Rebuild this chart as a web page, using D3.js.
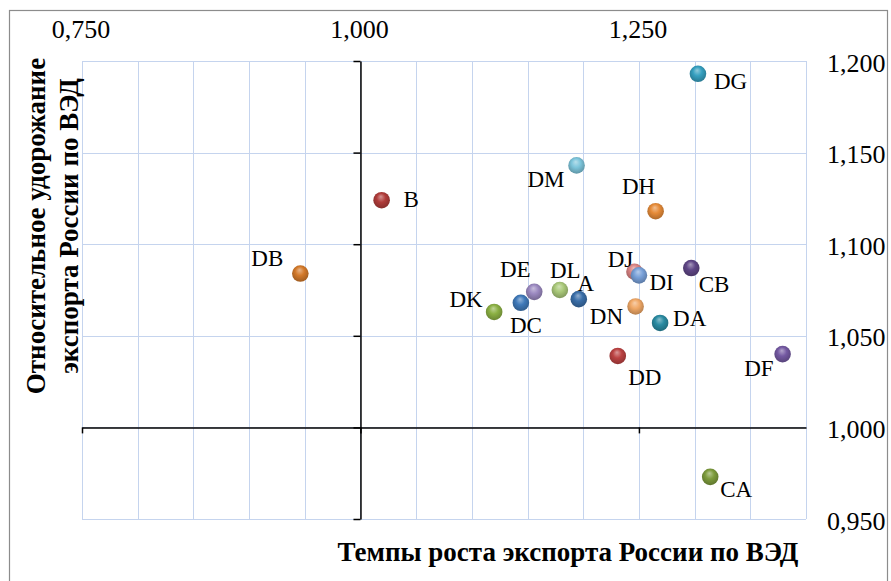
<!DOCTYPE html>
<meta charset="utf-8">
<style>
body { margin: 0; background: #fff; }
svg text { font-family: "Liberation Serif", "Times New Roman", serif; fill: #000; }
.grid line { stroke: #c5d4ee; stroke-width: 1.3; shape-rendering: crispEdges; }
.tick-lbl text { font-size: 26px; }
.pt-lbl { font-size: 23px; }
.ttl { font-size: 27px; font-weight: bold; }
</style>
<body>
<script src="https://cdn.jsdelivr.net/npm/d3@7/dist/d3.min.js"></script>
<script>

// data
var names  = ["A", "B", "CA", "CB", "DA", "DB", "DC", "DD", "DE", "DF", "DG", "DH", "DI", "DJ", "DK", "DL", "DM", "DN"];
var growth = [1.196, 1.019, 1.314, 1.297, 1.269, 0.946, 1.144, 1.231, 1.156, 1.379, 1.303, 1.265, 1.250, 1.246, 1.120, 1.179, 1.194, 1.247];
var rise   = [1.070, 1.124, 0.973, 1.087, 1.057, 1.084, 1.068, 1.039, 1.074, 1.040, 1.193, 1.118, 1.083, 1.085, 1.063, 1.075, 1.143, 1.066];

var xTickLabels = [0.75, 1.00, 1.25];
var yTickLabels = [0.95, 1.00, 1.05, 1.10, 1.15, 1.20];

var xTitle = "Темпы роста экспорта России по ВЭД";
var yTitle = ["Относительное удорожание", "экспорта России по ВЭД"];

// point colours (Excel "vary colors by point")
var colors = {
  A: "#3a6ea8", B: "#b03c3a", CA: "#7d9c3c", CB: "#5f4686", DA: "#2a8ba2", DB: "#d3792a",
  DC: "#3f79b9", DD: "#bb4242", DE: "#9b89c0", DF: "#7459a2", DG: "#36a0c0", DH: "#e68b38",
  DI: "#78a0d8", DJ: "#d98282", DK: "#8bb043", DL: "#a9c879", DM: "#7dc5db", DN: "#f0a866"
};

// label placement: [anchor, dx, dy(baseline)]
var lblPos = {
  A: ["middle", 7, -8], B: ["start", 22, 7], CA: ["start", 10, 20], CB: ["start", 7.5, 23.5],
  DA: ["start", 13, 3.5], DB: ["end", -17, -8], DC: ["middle", 5, 30], DD: ["middle", 27, 29.5],
  DE: ["middle", -19, -14.5], DF: ["end", -9, 21.5], DG: ["start", 16, 15], DH: ["middle", -17, -17],
  DI: ["start", 10.5, 15], DJ: ["middle", -14, -5], DK: ["end", -11.5, -4.5], DL: ["middle", 5.5, -12.5],
  DM: ["end", -12, 21.5], DN: ["end", -12.5, 17.5]
};

var W = 891, H = 581;
var plotL = 82, plotR = 806, plotT = 61, plotB = 519;

var ru = d3.formatLocale({decimal: ",", thousands: " ", grouping: [3], currency: ["", ""]});
var fmt = ru.format(".3f");

var x = d3.scaleLinear().domain([0.75, 1.40]).range([plotL, plotR]);
var y = d3.scaleLinear().domain([0.95, 1.20]).range([plotB, plotT]);

var svg = d3.select("body").append("svg")
    .attr("width", W)
    .attr("height", H);

// chart border
svg.append("rect")
    .attr("x", 9.5).attr("y", 10.5)
    .attr("width", 878).attr("height", 600)
    .attr("fill", "#fff")
    .attr("stroke", "#8c8c8c").attr("stroke-width", 1.2);

// gridlines
var grid = svg.append("g").attr("class", "grid");
grid.selectAll(".gx")
    .data(d3.range(0, 14).map(function(i) { return 0.75 + i * 0.05; }))
    .enter().append("line")
    .attr("x1", function(d) { return Math.round(x(d)) + 0.5; })
    .attr("x2", function(d) { return Math.round(x(d)) + 0.5; })
    .attr("y1", plotT).attr("y2", plotB);
grid.selectAll(".gy")
    .data(yTickLabels)
    .enter().append("line")
    .attr("y1", function(d) { return Math.round(y(d)) + 0.5; })
    .attr("y2", function(d) { return Math.round(y(d)) + 0.5; })
    .attr("x1", plotL).attr("x2", plotR);

// axes crossing at 1,000 / 1,000
var yAxis = d3.axisLeft(y).tickValues(yTickLabels).tickSize(7).tickSizeOuter(0).tickFormat("");
svg.append("g")
    .attr("transform", "translate(" + x(1.0) + ",0)")
    .call(yAxis)
    .call(function(g) {
      g.selectAll("line, path").attr("stroke", "#000").attr("stroke-width", 1.5);
    });

var xAxis = d3.axisBottom(x).tickValues(xTickLabels).tickSize(6).tickSizeOuter(0).tickFormat("");
svg.append("g")
    .attr("transform", "translate(0," + y(1.0) + ")")
    .call(xAxis)
    .call(function(g) {
      g.selectAll("line, path").attr("stroke", "#000").attr("stroke-width", 1.5);
    });

// tick labels: x on top, y on the right
svg.append("g").attr("class", "tick-lbl")
    .selectAll("text")
    .data(xTickLabels)
    .enter().append("text")
    .attr("x", function(d) { return x(d) - 1; })
    .attr("y", 38)
    .attr("text-anchor", "middle")
    .text(fmt);

svg.append("g").attr("class", "tick-lbl")
    .selectAll("text")
    .data(yTickLabels)
    .enter().append("text")
    .attr("x", 827)
    .attr("y", function(d) { return y(d) + 10.5; })
    .text(fmt);

// axis titles
svg.append("text").attr("class", "ttl")
    .attr("x", 568).attr("y", 561)
    .attr("text-anchor", "middle")
    .text(xTitle);

var yt = svg.append("g").attr("transform", "translate(0,226) rotate(-90)");
yt.selectAll("text")
    .data(yTitle)
    .enter().append("text")
    .attr("class", "ttl")
    .attr("x", 0)
    .attr("y", function(d, i) { return 45 + i * 33; })
    .attr("text-anchor", "middle")
    .text(function(d) { return d; });

// sphere gradients
var defs = svg.append("defs");
names.forEach(function(n) {
  var c = d3.color(colors[n]);
  var g = defs.append("radialGradient")
      .attr("id", "g" + n)
      .attr("cx", "50%").attr("cy", "45%").attr("r", "60%")
      .attr("fx", "45%").attr("fy", "28%");
  g.append("stop").attr("offset", "0%").attr("stop-color", d3.interpolateRgb(c, "#fff")(0.45));
  g.append("stop").attr("offset", "45%").attr("stop-color", c.formatHex());
  g.append("stop").attr("offset", "100%").attr("stop-color", c.darker(0.9).formatHex());
});

var pts = names.map(function(n, i) { return {name: n, gx: growth[i], ry: rise[i]}; }).reverse();

svg.append("g").selectAll("circle")
    .data(pts)
    .enter().append("circle")
    .attr("cx", function(d) { return x(d.gx); })
    .attr("cy", function(d) { return y(d.ry); })
    .attr("r", 8.3)
    .attr("fill", function(d) { return "url(#g" + d.name + ")"; });

svg.append("g").selectAll("text")
    .data(pts)
    .enter().append("text")
    .attr("class", "pt-lbl")
    .attr("x", function(d) { return x(d.gx) + lblPos[d.name][1]; })
    .attr("y", function(d) { return y(d.ry) + lblPos[d.name][2]; })
    .attr("text-anchor", function(d) { return lblPos[d.name][0]; })
    .text(function(d) { return d.name; });

</script>
</body>
